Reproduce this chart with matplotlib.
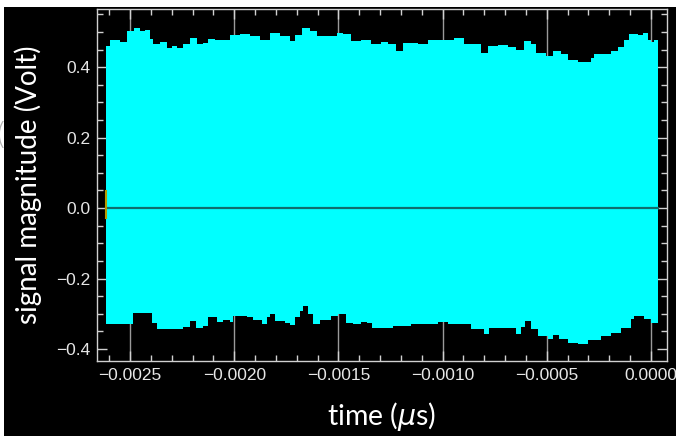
import numpy as np
import matplotlib.pyplot as plt
from matplotlib.patches import Rectangle
from matplotlib.ticker import MultipleLocator

# upper envelope of the burst (time, volts)
t_upper = [-0.002615, -0.002596, -0.002563, -0.002548, -0.002524, -0.002514, -0.002481,
           -0.002452, -0.002428, -0.002404, -0.00239, -0.002356, -0.002322, -0.002298,
           -0.002274, -0.002245, -0.002212, -0.002178, -0.002149, -0.002125, -0.002091,
           -0.002058, -0.00202, -0.001971, -0.001923, -0.001875, -0.001827, -0.001779,
           -0.001731, -0.001707, -0.001673, -0.001635, -0.001601, -0.001553, -0.001505,
           -0.001476, -0.001442, -0.001394, -0.001346, -0.001298, -0.001264, -0.001226,
           -0.001188, -0.00112, -0.001072, -0.001024, -0.000947, -0.000899, -0.000865,
           -0.000817, -0.000784, -0.000736, -0.000688, -0.000649, -0.000611, -0.000577,
           -0.000553, -0.000505, -0.000471, -0.000433, -0.000399, -0.000351, -0.000322,
           -0.000288, -0.000274, -0.000226, -0.000192, -0.000159, -0.00013, -0.000106,
           -0.000063, -0.000038, -0.000014, 0.0, 0.000014, 0.000034]
v_upper = [0.46, 0.478, 0.478, 0.471, 0.471, 0.502, 0.51,
           0.502, 0.506, 0.48, 0.465, 0.47, 0.453, 0.46,
           0.455, 0.465, 0.483, 0.466, 0.469, 0.48, 0.476,
           0.476, 0.49, 0.494, 0.487, 0.478, 0.496, 0.489,
           0.474, 0.49, 0.51, 0.502, 0.488, 0.489, 0.497,
           0.494, 0.474, 0.476, 0.466, 0.472, 0.466, 0.445,
           0.469, 0.467, 0.476, 0.476, 0.483, 0.465, 0.467,
           0.44, 0.46, 0.462, 0.456, 0.45, 0.474, 0.465,
           0.44, 0.431, 0.445, 0.436, 0.419, 0.414, 0.416,
           0.425, 0.436, 0.436, 0.445, 0.457, 0.476, 0.493,
           0.49, 0.496, 0.478, 0.472, 0.478, 0.478]

# lower envelope
t_lower = [-0.002615, -0.002563, -0.002538, -0.00251, -0.002486, -0.002413, -0.002394,
           -0.00237, -0.002274, -0.002245, -0.002212, -0.002183, -0.002149, -0.002125,
           -0.002082, -0.002053, -0.00202, -0.002005, -0.001938, -0.001909, -0.001865,
           -0.001841, -0.001827, -0.001803, -0.001755, -0.001731, -0.001707, -0.001683,
           -0.001668, -0.001644, -0.00162, -0.001587, -0.001538, -0.0015, -0.001466,
           -0.001428, -0.001394, -0.001361, -0.001337, -0.001284, -0.00124, -0.001202,
           -0.001154, -0.001072, -0.001024, -0.001, -0.000976, -0.00088, -0.000865,
           -0.000817, -0.000803, -0.000779, -0.000673, -0.000649, -0.000625, -0.000606,
           -0.000577, -0.000543, -0.000495, -0.000471, -0.000442, -0.000399, -0.000351,
           -0.000303, -0.00024, -0.000192, -0.000144, -0.000096, -0.000082, -0.000034,
           0.0, 0.000034]
v_lower = [-0.328, -0.328, -0.33, -0.33, -0.297, -0.299, -0.325,
           -0.342, -0.342, -0.337, -0.32, -0.341, -0.335, -0.31,
           -0.322, -0.318, -0.322, -0.306, -0.308, -0.318, -0.329,
           -0.31, -0.3, -0.32, -0.325, -0.333, -0.31, -0.292,
           -0.278, -0.3, -0.328, -0.318, -0.306, -0.3, -0.325,
           -0.33, -0.323, -0.325, -0.34, -0.34, -0.335, -0.335,
           -0.33, -0.33, -0.323, -0.323, -0.33, -0.33, -0.344,
           -0.344, -0.358, -0.34, -0.34, -0.358, -0.338, -0.32,
           -0.343, -0.363, -0.372, -0.36, -0.372, -0.382, -0.387,
           -0.375, -0.363, -0.355, -0.34, -0.316, -0.306, -0.316,
           -0.326, -0.326]

# short reference trace at the start of the record
t_ref = [-0.002615, -0.002615]
v_ref = [-0.028, 0.048]

xticks = [-0.0025, -0.0020, -0.0015, -0.0010, -0.0005, 0.0]
yticks = [-0.4, -0.2, 0.0, 0.2, 0.4]

fig = plt.figure(figsize=(6.76, 4.36), dpi=100, facecolor="black")
# white margin strips along the top and left edges
fig.patches.append(Rectangle((0, 1 - 7 / 436), 1, 7 / 436, transform=fig.transFigure,
                             facecolor="white", edgecolor="none", zorder=0))
fig.patches.append(Rectangle((0, 0), 4 / 676, 1, transform=fig.transFigure,
                             facecolor="white", edgecolor="none", zorder=0))

ax = fig.add_axes([97 / 676, 1 - 361 / 436, 570 / 676, 352 / 436])
ax.set_facecolor("black")

for t in xticks:
    ax.axvline(t, color="#9a9a9a", lw=1, zorder=1)

ax.fill_between(t_upper, 0, v_upper, step="post", color="#00ffff", lw=0, zorder=2)
ax.fill_between(t_lower, v_lower, 0, step="post", color="#00ffff", lw=0, zorder=2)
ax.plot([t_upper[0], t_upper[-1]], [0, 0], color="#0f6e6e", lw=1.6, zorder=3)
ax.plot(t_ref, v_ref, color="#b59a00", lw=1.5, zorder=3)

ax.set_xlim(-0.002659, 0.000077)
ax.set_ylim(-0.434, 0.565)
ax.set_xticks(xticks)
ax.set_yticks(yticks)
ax.set_xticklabels(["\u22120.0025", "\u22120.0020", "\u22120.0015", "\u22120.0010",
                    "\u22120.0005", "0.0000"])
ax.set_yticklabels(["\u22120.4", "\u22120.2", "0.0", "0.2", "0.4"])
ax.xaxis.set_minor_locator(MultipleLocator(0.0001))
ax.yaxis.set_minor_locator(MultipleLocator(0.05))
ax.tick_params(which="both", direction="in", top=True, right=True, color="#d0d0d0",
               labelcolor="#e6e6e6", labelsize=12.5, width=1)
ax.tick_params(which="major", length=7, pad=5)
ax.tick_params(which="minor", length=4)
for lab in ax.get_xticklabels() + ax.get_yticklabels():
    lab.set_family("Liberation Sans")
for s in ax.spines.values():
    s.set_color("#d0d0d0")
    s.set_linewidth(1)

ax.set_xlabel("time ($\\mu$s)", color="white", fontsize=20.5, family="Lato")
ax.set_ylabel("signal magnitude (Volt)", color="white", fontsize=20, family="Lato")
ax.xaxis.set_label_coords(0.5, -0.11)
ax.yaxis.set_label_coords(-0.097, 0.5)

fig.text(-0.008, 1 - 136 / 436, "(", color="#b0b0b0", fontsize=22, family="DejaVu Sans",
         va="center", ha="left", fontweight="light")

fig.savefig("out.png", dpi=100, facecolor=fig.get_facecolor())
